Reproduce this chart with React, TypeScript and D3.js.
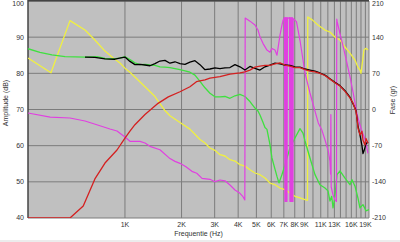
import React from "react";
import * as d3 from "d3";

type P = [number, number];

const FMIN = 305;
const FMAX = 19860;
const AMP_MIN = 40;
const AMP_MAX = 100;
const PH_MIN = -210;
const PH_MAX = 210;

const ampTicks = [40, 50, 60, 70, 80, 90, 100];
const phaseTicks = [-210, -140, -70, 0, 70, 140, 210];
const gridFreqs = [1000, 2000, 3000, 4000, 5000, 6000, 7000, 8000, 9000, 10000, 11000, 12000, 13000, 14000, 15000, 16000, 17000, 18000, 19000];
const freqTickValues = [1000, 2000, 3000, 4000, 5000, 6000, 7000, 8000, 9000, 11000, 13000, 16000, 19000];
const freqTickLabels = ["1K", "2K", "3K", "4K", "5K", "6K", "7K", "8K", "9K", "11K", "13K", "16K", "19K"];

const ampGreen: P[] = [[305,86.8],[353,85.8],[409,85.1],[480,84.6],[613,84.5],[710,84.6],[783,84.1],[863,84.0],[941,84.2],[1000,84.6],[1063,83.8],[1130,82.9],[1202,82.4],[1278,82.5],[1358,82.3],[1444,82.2],[1535,81.8],[1632,81.7],[1735,81.6],[1845,81.3],[1962,81.0],[2086,80.7],[2216,80.3],[2357,79.5],[2506,77.8],[2664,76.0],[2832,74.5],[3011,73.5],[3201,73.5],[3403,73.6],[3618,73.1],[3847,73.8],[4090,74.2],[4347,73.6],[4622,72.2],[4914,70.4],[5098,69.6],[5225,68.5],[5420,66.5],[5555,65.0],[5692,64.5],[5906,60.3],[6051,56.6],[6279,53.5],[6435,51.5],[6594,49.7],[6840,52.0],[7096,54.7],[7545,59.4],[8022,62.1],[8529,64.7],[8847,63.5],[9068,61.3],[9640,56.6],[10250,52.0],[10890,49.2],[11580,48.3],[12020,47.5],[12310,44.7],[12580,46.0],[12780,42.8],[13090,46.0],[13420,52.0],[13920,53.0],[14800,51.0],[15730,49.2],[16120,50.6],[16730,48.8],[17350,45.5],[17780,42.8],[18450,43.7],[19140,42.0],[19860,42.3]];

const ampBlack: P[] = [[613,84.5],[692,84.4],[783,84.0],[885,83.9],[950,84.3],[1000,84.5],[1063,83.3],[1130,82.4],[1202,82.5],[1278,82.3],[1358,82.1],[1444,82.7],[1535,83.4],[1632,83.6],[1735,82.8],[1845,83.2],[1962,82.7],[2086,82.5],[2216,83.1],[2357,83.5],[2506,82.4],[2664,81.0],[2832,81.2],[3011,81.5],[3201,81.3],[3403,81.5],[3618,81.6],[3847,82.4],[4090,81.8],[4347,80.9],[4622,81.9],[4914,81.4],[5225,80.9],[5555,81.8],[5906,82.3],[6279,82.8],[6676,82.6],[7096,82.3],[7545,82.2],[8022,81.8],[8529,81.7],[9068,81.2],[9640,80.9],[10250,80.6],[10890,80.1],[11580,79.5],[12310,78.5],[13090,77.5],[13920,76.6],[14800,75.2],[15730,73.4],[16320,71.6],[16930,69.8],[17350,65.5],[17780,63.0],[18220,60.0],[18450,57.8],[18670,58.5],[19140,60.5],[19620,61.0]];

const ampRed: P[] = [[305,40],[510,40],[600,43.3],[692,50.8],[783,55.2],[907,58.8],[1000,62.1],[1063,64.0],[1130,65.8],[1278,68.6],[1358,69.8],[1500,71.7],[1700,73.5],[1962,74.9],[2216,76.3],[2400,77.7],[2506,77.9],[2664,78.2],[2832,78.7],[3201,79.1],[3618,79.8],[4090,80.1],[4347,80.4],[4622,80.9],[4914,81.7],[5225,82.0],[5555,82.2],[5906,82.2],[6279,82.6],[6676,82.9],[7096,82.3],[7545,82.0],[8022,81.6],[8529,81.6],[9068,81.0],[9640,80.6],[10250,80.4],[10890,80.0],[11580,79.4],[12310,78.4],[13090,77.4],[13920,76.5],[14800,75.0],[15730,73.2],[16320,71.8],[16930,69.5],[17140,67.6],[17350,64.9],[17780,63.0],[18220,64.0],[18450,61.5],[18900,60.2],[19140,62.0],[19620,60.7]];

const phaseYellow: P[] = [[305,99.6],[404,71],[510,172],[613,153.8],[692,134.4],[783,113],[863,100],[941,90],[1000,80],[1063,72],[1130,63],[1278,44],[1444,25],[1632,-2],[1735,-12],[1962,-25],[2216,-38],[2357,-48],[2506,-58],[2664,-64.9],[2832,-74.5],[3011,-79],[3201,-87.5],[3403,-90],[3618,-97.2],[3847,-99.7],[4090,-106.9],[4347,-109.4],[4622,-116.5],[4914,-122.9],[5225,-126.2],[5555,-132.6],[5906,-142.3],[6279,-145.6],[6676,-152],[7096,-155],[7545,-161.6],[8022,-168],[8529,-171],[9068,-174.6],[9350,-176],[9380,179],[9950,173],[10630,163.5],[11580,153.8],[12310,150],[13090,140.3],[13920,134.4],[14800,121],[15730,109],[16730,95.7],[17350,82],[17780,76.4],[18000,70],[18450,100],[18670,115],[19140,118.4],[19620,115]];

const phaseMagenta: P[] = [[305,-6.8],[400,-14.6],[510,-16.5],[613,-22.3],[736,-31.4],[832,-37.8],[907,-41.7],[1000,-53.3],[1063,-61.6],[1202,-61.6],[1278,-64.9],[1358,-71.3],[1535,-77.8],[1735,-95],[1845,-100.4],[1962,-104.2],[2110,-110.7],[2270,-119.7],[2410,-123.5],[2570,-133.2],[2832,-135.1],[3011,-139.7],[3201,-136.5],[3403,-138],[3618,-146.1],[3847,-155.8],[4090,-162.2],[4243,-168.8],[4340,-175],[4360,177],[4622,171],[4914,163.5],[5098,153.8],[5225,141],[5420,128],[5692,115],[5906,111],[6051,118],[6279,115],[6435,105],[6676,144],[6840,163.5],[6925,172],[7053,178],[7096,-178],[7140,178],[7184,-178],[7228,178],[7272,-178],[7317,178],[7340,176],[7499,178],[7545,-178],[7591,178],[7638,-178],[7685,178],[7732,-178],[7780,178],[7828,-178],[7850,176],[8170,170],[8529,134],[9068,70.6],[9640,32],[10250,-3],[10670,-26],[11130,-39],[11580,-58.5],[12070,-81],[12310,-100],[12400,-125],[12450,-10],[12500,-150],[12780,-165],[13090,-175],[13330,-178],[13380,175],[13450,170],[13920,147],[14480,121.5],[15100,92.5],[15730,63.4],[16380,31.3],[17080,-4.9],[17350,-16.5],[17780,-29.5],[18220,-42.3],[18670,-52],[19140,-65],[19620,-85]];

export default function App() {
  const W = 400, H = 242;
  const L = 28, R = 369, T = 1, B = 218;
  const x = d3.scaleLog().domain([FMIN, FMAX]).range([L, R]);
  const yA = d3.scaleLinear().domain([AMP_MIN, AMP_MAX]).range([B, T]);
  const yP = d3.scaleLinear().domain([PH_MIN, PH_MAX]).range([B, T]);
  const lineA = d3.line<P>().x(d => x(d[0])).y(d => yA(d[1]));
  const lineP = d3.line<P>().x(d => x(d[0])).y(d => yP(d[1]));
  const font = "'Liberation Sans', Arial, sans-serif";
  const txt = "#333";
  const labelY = (y: number) => Math.max(y, 4);

  return (
    <svg width={W} height={H} style={{ position: "absolute", left: 0, top: 0, background: "#fff" }} fontFamily={font}>
      <defs>
        <clipPath id="plot"><rect x={L} y={T} width={R - L} height={B - T} /></clipPath>
      </defs>
      <rect x={0} y={0} width={W} height={H} fill="#fff" />
      <rect x={0} y={240} width={W} height={2} fill="#ececec" />
      <rect x={L} y={T} width={R - L} height={B - T} fill="#c0c0c0" />
      {ampTicks.map(t => (
        <line key={"h" + t} x1={L} x2={R} y1={yA(t)} y2={yA(t)} stroke="#7c7c7c" strokeWidth={1} />
      ))}
      {gridFreqs.map(f => (
        <line key={"v" + f} x1={x(f)} x2={x(f)} y1={T} y2={B} stroke="#7c7c7c" strokeWidth={1} />
      ))}
      <line x1={R} x2={R} y1={T} y2={B} stroke="#7c7c7c" strokeWidth={1} />
      <line x1={L} x2={L} y1={0} y2={B} stroke="#444" strokeWidth={1.5} />
      <line x1={L} x2={R} y1={0.75} y2={0.75} stroke="#444" strokeWidth={1.5} />
      <g clipPath="url(#plot)" fill="none" strokeWidth={1.3} strokeLinejoin="round">
        <path d={lineP(phaseYellow) || ""} stroke="#f0f040" />
        <path d={lineA(ampGreen) || ""} stroke="#3fe03f" />
        <path d={lineP(phaseMagenta) || ""} stroke="#e040e0" strokeWidth={1.2} />
        <path d={lineA(ampBlack) || ""} stroke="#000" />
        <path d={lineA(ampRed) || ""} stroke="#d42020" />
      </g>
      {ampTicks.map(t => (
        <text key={"la" + t} x={24} y={labelY(yA(t))} dy="0.35em" textAnchor="end" fontSize={7} fill={txt}>{t}</text>
      ))}
      {phaseTicks.map(t => (
        <text key={"lp" + t} x={372} y={labelY(yP(t))} dy="0.35em" textAnchor="start" fontSize={7} fill={txt}>{t}</text>
      ))}
      {freqTickValues.map((f, i) => (
        <text key={"lf" + f} x={x(f)} y={225} dy="0.35em" textAnchor="middle" fontSize={7} fill={txt}>{freqTickLabels[i]}</text>
      ))}
      <text x={(L + R) / 2} y={233.5} dy="0.35em" textAnchor="middle" fontSize={7} fill={txt}>Frequentie (Hz)</text>
      <text transform={`translate(6,103) rotate(-90)`} textAnchor="middle" dy="0.35em" fontSize={7} fill={txt}>Amplitude (dB)</text>
      <text transform={`translate(393,100) rotate(-90)`} textAnchor="middle" dy="0.35em" fontSize={7} fill={txt}>Fase (gr)</text>
    </svg>
  );
}
